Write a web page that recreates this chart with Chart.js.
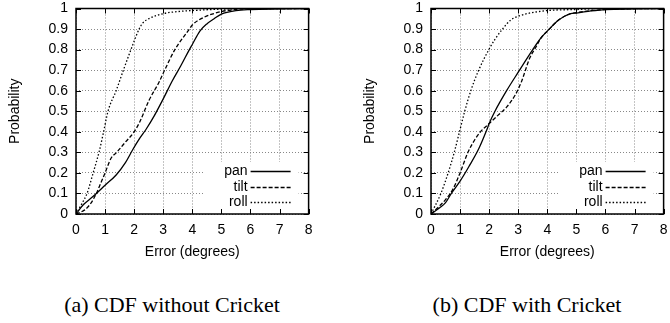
<!DOCTYPE html>
<html>
<head>
<meta charset="utf-8">
<script src="https://cdn.jsdelivr.net/npm/chart.js@4/dist/chart.umd.min.js"></script>
<style>
  body { margin: 0; background: #fff; }
  #wrap { position: relative; width: 670px; height: 323px; overflow: hidden; background: #fff; }
  canvas { position: absolute; top: 0; }
  .cap { position: absolute; top: 293px; width: 300px; text-align: center; font-family: "Liberation Serif", "Times New Roman", serif; font-size: 22px; line-height: 24px; color: #000; }
</style>
</head>
<body>
<div id="wrap">
  <canvas id="chartA" width="320" height="265" style="left:0"></canvas>
  <canvas id="chartB" width="320" height="265" style="left:355px"></canvas>
  <div class="cap" style="left:22px">(a) CDF without Cricket</div>
  <div class="cap" style="left:377px">(b) CDF with Cricket</div>
</div>
<script>
const seriesNames = ['pan', 'tilt', 'roll'];

// (a) without Cricket
const aPanX  = [0, 0.25, 0.5, 0.7, 1.0, 1.38, 1.7, 1.94, 2.2, 2.4, 2.7, 3.0, 3.3, 3.6, 3.9, 4.0, 4.26, 4.5, 4.75, 5.0, 5.5, 6.0, 7.0, 8.0];
const aPanY  = [0, 0.045, 0.075, 0.1, 0.14, 0.19, 0.25, 0.31, 0.37, 0.41, 0.48, 0.56, 0.645, 0.72, 0.8, 0.825, 0.89, 0.925, 0.95, 0.973, 0.99, 0.995, 0.998, 1];
const aTiltX = [0, 0.3, 0.5, 0.7, 0.85, 1.0, 1.2, 1.4, 1.7, 2.0, 2.2, 2.5, 2.85, 3.05, 3.4, 3.9, 4.0, 4.4, 5.0, 5.5, 6.0, 8.0];
const aTiltY = [0, 0.02, 0.05, 0.1, 0.15, 0.2, 0.27, 0.3, 0.35, 0.4, 0.45, 0.55, 0.64, 0.7, 0.8, 0.9, 0.92, 0.957, 0.985, 0.995, 1, 1];
const aRollX = [0, 0.2, 0.38, 0.59, 0.79, 0.95, 1.1, 1.38, 1.63, 1.89, 2.17, 2.3, 2.5, 3.0, 3.5, 4.0, 5.0, 6.0, 8.0];
const aRollY = [0, 0.05, 0.1, 0.2, 0.3, 0.4, 0.5, 0.6, 0.7, 0.8, 0.9, 0.93, 0.95, 0.975, 0.985, 0.99, 0.997, 1, 1];

// (b) with Cricket
const bPanX  = [0, 0.3, 0.5, 0.7, 1.0, 1.3, 1.65, 1.92, 2.0, 2.2, 2.6, 3.0, 3.5, 3.8, 4.0, 4.4, 4.8, 5.0, 5.5, 6.0, 7.0, 8.0];
const bPanY  = [0, 0.03, 0.055, 0.1, 0.16, 0.23, 0.32, 0.41, 0.44, 0.5, 0.6, 0.69, 0.8, 0.86, 0.89, 0.945, 0.975, 0.978, 0.988, 0.995, 0.998, 1];
const bTiltX = [0, 0.3, 0.5, 0.75, 1.0, 1.27, 1.5, 1.7, 2.0, 2.3, 2.6, 2.9, 3.1, 3.4, 3.6, 3.8, 4.0, 4.4, 4.8, 5.0, 5.5, 6.0, 7.0, 8.0];
const bTiltY = [0, 0.04, 0.07, 0.12, 0.2, 0.3, 0.36, 0.4, 0.44, 0.48, 0.52, 0.58, 0.64, 0.76, 0.81, 0.86, 0.89, 0.945, 0.975, 0.98, 0.99, 0.995, 0.999, 1];
const bRollX = [0, 0.34, 0.59, 0.8, 0.98, 1.16, 1.37, 1.64, 1.99, 2.2, 2.46, 2.75, 3.0, 3.3, 4.0, 5.0, 6.0, 8.0];
const bRollY = [0, 0.1, 0.2, 0.3, 0.4, 0.5, 0.6, 0.7, 0.8, 0.85, 0.9, 0.945, 0.962, 0.975, 0.99, 0.995, 1, 1];

const dashes = [[], [4, 2], [1.5, 2]];
const font = { family: '"Liberation Sans", Arial, sans-serif', size: 14 };

const toPoints = (xs, ys) => xs.map((x, i) => ({ x: x, y: ys[i] }));

// gnuplot style: frame, inner ticks, key with white box
const gnuplotFrame = {
  id: 'gnuplotFrame',
  beforeDatasetsDraw(chart) {
    const { ctx, chartArea: a } = chart;
    ctx.save();
    ctx.fillStyle = '#fff';
    ctx.fillRect(a.right - 105, a.bottom - 52, 95, 52);
    ctx.restore();
  },
  afterDatasetsDraw(chart) {
    const { ctx, chartArea: a, scales } = chart;
    ctx.save();
    ctx.strokeStyle = '#000';
    ctx.lineWidth = 1;
    ctx.setLineDash([]);
    ctx.beginPath();
    scales.x.ticks.forEach(t => {
      const px = Math.round(scales.x.getPixelForValue(t.value)) + 0.5;
      ctx.moveTo(px, a.bottom); ctx.lineTo(px, a.bottom - 5);
      ctx.moveTo(px, a.top); ctx.lineTo(px, a.top + 5);
    });
    scales.y.ticks.forEach(t => {
      const py = Math.round(scales.y.getPixelForValue(t.value)) + 0.5;
      ctx.moveTo(a.left, py); ctx.lineTo(a.left + 5, py);
      ctx.moveTo(a.right, py); ctx.lineTo(a.right - 5, py);
    });
    ctx.stroke();
    ctx.lineWidth = 1.5;
    ctx.strokeRect(a.left, a.top, a.right - a.left, a.bottom - a.top);

    // key
    const rows = [a.bottom - 43, a.bottom - 27, a.bottom - 12.3];
    ctx.font = '14px "Liberation Sans", Arial, sans-serif';
    ctx.fillStyle = '#000';
    ctx.textAlign = 'right';
    ctx.textBaseline = 'middle';
    seriesNames.forEach((name, i) => {
      ctx.fillText(name, a.right - 61, rows[i]);
      ctx.setLineDash(dashes[i]);
      ctx.lineWidth = 1.3;
      ctx.beginPath();
      ctx.moveTo(a.right - 58, Math.round(rows[i]) + 0.5);
      ctx.lineTo(a.right - 18, Math.round(rows[i]) + 0.5);
      ctx.stroke();
    });
    ctx.restore();
  }
};

const makeChart = (id, series) => {
  new Chart(document.getElementById(id), {
    type: 'line',
    data: {
      datasets: series.map((pts, i) => ({
        label: seriesNames[i],
        data: pts,
        borderColor: '#000',
        borderWidth: 1.3,
        borderDash: dashes[i],
        pointRadius: 0,
        fill: false,
        cubicInterpolationMode: 'monotone'
      }))
    },
    options: {
      responsive: false,
      animation: false,
      events: [],
      layout: { padding: { top: 1, right: 4, left: 0, bottom: 0 } },
      plugins: { legend: { display: false }, tooltip: { enabled: false } },
      scales: {
        x: {
          type: 'linear', min: 0, max: 8,
          ticks: { stepSize: 1, color: '#000', font: font, padding: 7.5, maxRotation: 0, autoSkip: false },
          grid: { color: '#888', lineWidth: 1, drawTicks: false },
          border: { display: false, dash: [1, 2] },
          title: { display: true, text: 'Error (degrees)', color: '#000', font: font, padding: { top: 5, bottom: 4.6 } },
          afterFit: (s) => { s.height = 51; }
        },
        y: {
          type: 'linear', min: 0, max: 1,
          ticks: { stepSize: 0.1, color: '#000', font: font, padding: 8, autoSkip: false, callback: (v) => String(Number(v.toFixed(1))) },
          grid: { color: '#888', lineWidth: 1, drawTicks: false },
          border: { display: false, dash: [1, 2] },
          title: { display: true, text: 'Probability', color: '#000', font: font, padding: { top: 6.6, bottom: 0 } },
          afterFit: (s) => { s.width = 76; s.paddingTop = 8.5; s.paddingBottom = 8.5; }
        }
      }
    },
    plugins: [gnuplotFrame]
  });
};

makeChart('chartA', [toPoints(aPanX, aPanY), toPoints(aTiltX, aTiltY), toPoints(aRollX, aRollY)]);
makeChart('chartB', [toPoints(bPanX, bPanY), toPoints(bTiltX, bTiltY), toPoints(bRollX, bRollY)]);
</script>
</body>
</html>
